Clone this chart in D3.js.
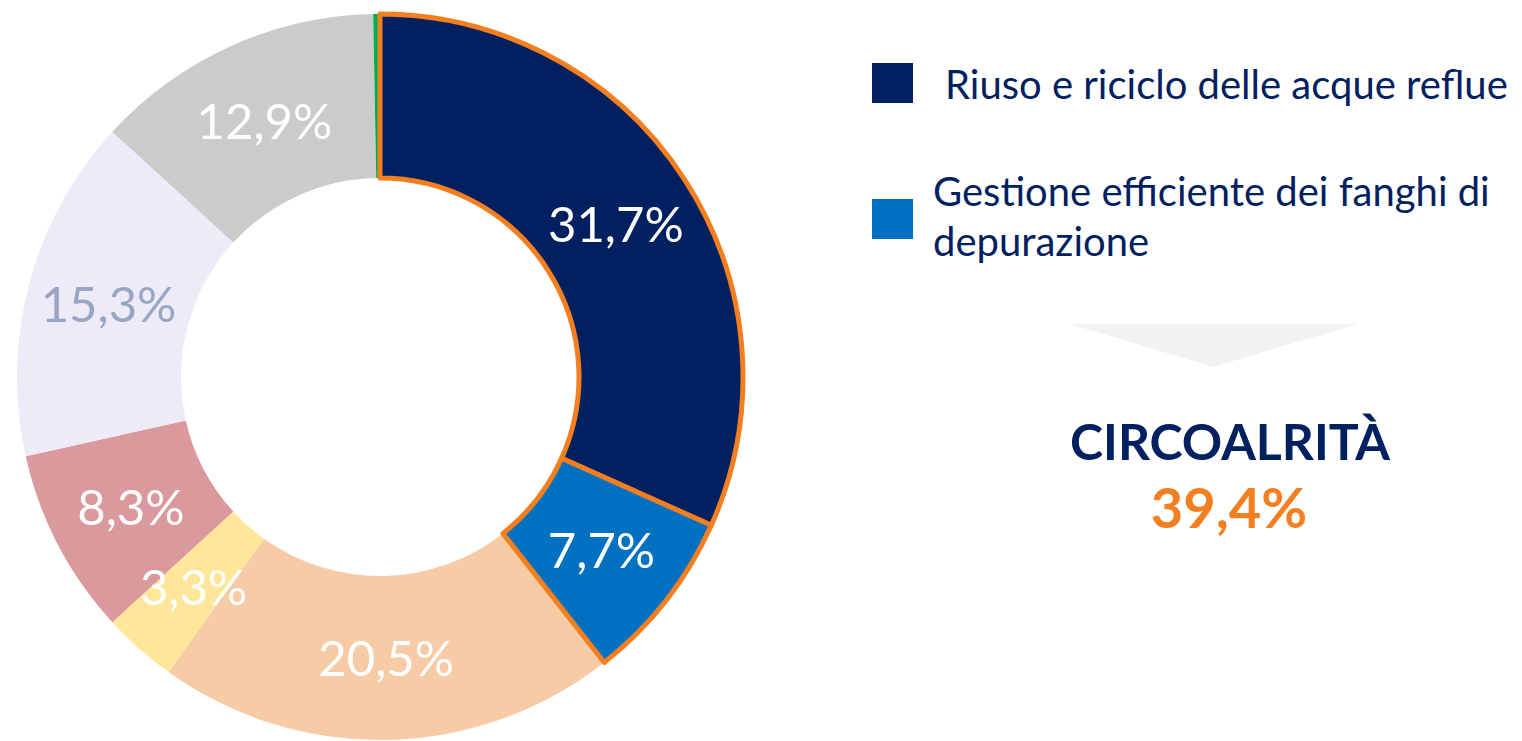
<!DOCTYPE html>
<html>
<head>
<meta charset="utf-8">
<script src="https://cdn.jsdelivr.net/npm/d3@7"></script>
<style>
  body { margin: 0; background: #fff; }
  text { font-family: "Source Sans Pro", Lato, "Noto Sans", sans-serif; }
</style>
</head>
<body>
<svg id="mainsvg" width="1522" height="741"></svg>
<script>
// data
const shares = [31.7, 7.7, 20.5, 3.3, 8.3, 15.3, 12.9, 0.3];
const sliceColors = ['#002060', '#0070c0', '#f8cba7', '#ffe699', '#da999c', '#ecebf7', '#cbcbcb', '#00b050'];
const labelColors = ['#fff', '#fff', '#fff', '#fff', '#fff', '#98a6c4', '#fff', 'none'];
const highlighted = [true, true, false, false, false, false, false, false];
const legendLabels = [['Riuso e riciclo delle acque reflue'], ['Gestione efficiente dei fanghi di', 'depurazione']];
const legendColors = ['#002060', '#0070c0'];
const totalTitle = 'CIRCOALRITÀ';
const totalValue = 39.4;

const svg = d3.select('#mainsvg');
const cx = 380, cy = 377;
const outerR = 363, innerR = 199;

const itFormat = d3.formatLocale({ decimal: ',', thousands: '.', grouping: [3], currency: ['', '€'] }).format('.1f');

const slices = shares.map((v, i) => ({ value: v, color: sliceColors[i], label: labelColors[i], hl: highlighted[i] }));

const pie = d3.pie().value(d => d.value).sort(null);
const arc = d3.arc().innerRadius(innerR).outerRadius(outerR);
const labelArc = d3.arc().innerRadius(281).outerRadius(281);

const arcs = pie(slices);
const g = svg.append('g').attr('transform', `translate(${cx},${cy})`);

// plain slices first, highlighted ones on top so the orange outline stays visible
g.selectAll('path.slice')
  .data(arcs.filter(d => !d.data.hl).concat(arcs.filter(d => d.data.hl)))
  .join('path')
  .attr('class', 'slice')
  .attr('d', arc)
  .attr('fill', d => d.data.color)
  .attr('stroke', d => d.data.hl ? '#f47f20' : 'none')
  .attr('stroke-width', 5)
  .attr('stroke-linejoin', 'round');

g.selectAll('text.pct')
  .data(arcs.filter(d => d.data.label !== 'none'))
  .join('text')
  .attr('class', 'pct')
  .attr('transform', d => `translate(${labelArc.centroid(d)})`)
  .attr('text-anchor', 'middle')
  .attr('dy', '0.36em')
  .attr('font-size', 49)
  .attr('fill', d => d.data.label)
  .text(d => itFormat(d.data.value) + '%');

// legend
const legend = svg.append('g').attr('transform', 'translate(872,0)');
const legendY = [63, 199];
legendLabels.forEach((lines, i) => {
  legend.append('rect')
    .attr('x', 0).attr('y', legendY[i])
    .attr('width', 41).attr('height', 40)
    .attr('fill', legendColors[i]);
  const t = legend.append('text')
    .attr('x', i === 0 ? 73 : 61)
    .attr('y', i === 0 ? 99 : 206)
    .attr('font-size', 40)
    .attr('fill', '#002060');
  lines.forEach((line, j) => {
    t.append('tspan')
      .attr('x', i === 0 ? 73 : 61)
      .attr('dy', j === 0 ? 0 : 50)
      .text(line);
  });
});

// arrow
svg.append('path')
  .attr('d', 'M1070,324 L1358,324 L1213,367 Z')
  .attr('fill', '#f2f2f2');

svg.append('text')
  .attr('x', 1230).attr('y', 460)
  .attr('text-anchor', 'middle')
  .attr('font-size', 50).attr('font-weight', 'bold')
  .attr('fill', '#002060')
  .text(totalTitle);

svg.append('text')
  .attr('x', 1229).attr('y', 528)
  .attr('text-anchor', 'middle')
  .attr('font-size', 56).attr('font-weight', 'bold')
  .attr('fill', '#f47f20')
  .text(itFormat(totalValue) + '%');
</script>
</body>
</html>
